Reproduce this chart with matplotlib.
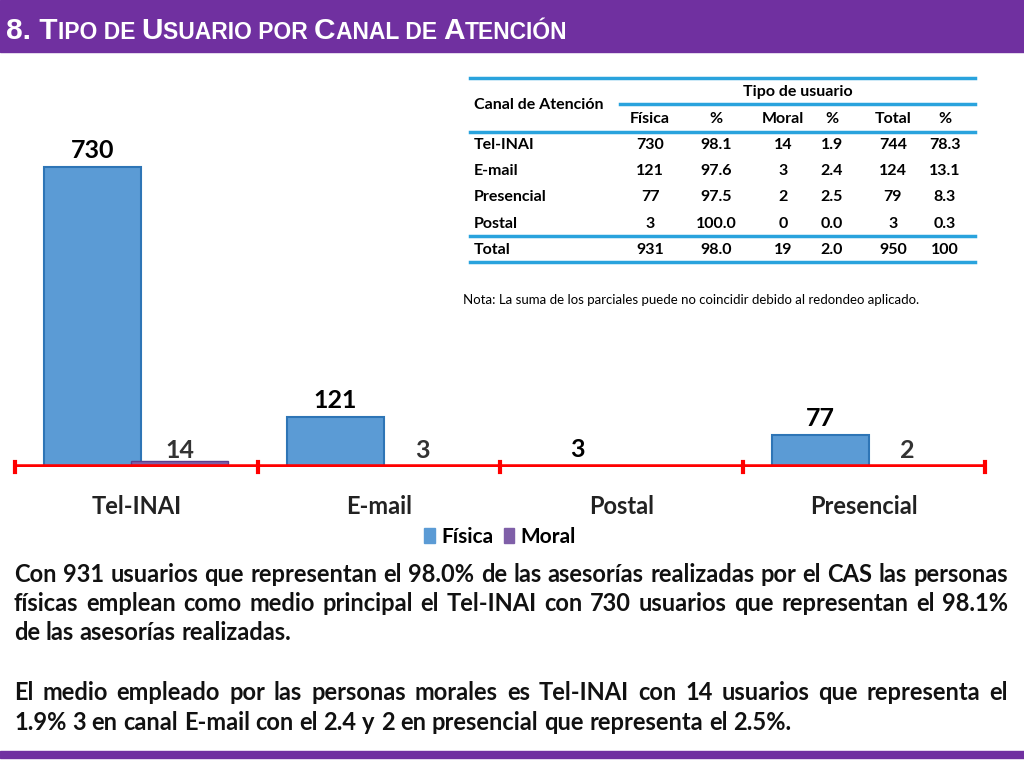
import matplotlib
matplotlib.use("Agg")
import matplotlib.pyplot as plt
from matplotlib.lines import Line2D
from matplotlib.patches import Rectangle, Patch

categories = ["Tel-INAI", "E-mail", "Postal", "Presencial"]
fisica = [730, 121, 3, 77]
moral = [14, 3, 0, 2]
moral_labels = ["14", "3", "", "2"]

tbl_channels = ["Tel-INAI", "E-mail", "Presencial", "Postal", "Total"]
tbl_fisica = ["730", "121", "77", "3", "931"]
tbl_fpct = ["98.1", "97.6", "97.5", "100.0", "98.0"]
tbl_moral = ["14", "3", "2", "0", "19"]
tbl_mpct = ["1.9", "2.4", "2.5", "0.0", "2.0"]
tbl_total = ["744", "124", "79", "3", "950"]
tbl_tpct = ["78.3", "13.1", "8.3", "0.3", "100"]

para1 = ("Con 931 usuarios que representan el 98.0% de las asesorías realizadas por el CAS las personas "
         "físicas emplean como medio principal el Tel-INAI con 730 usuarios que representan el 98.1% "
         "de las asesorías realizadas.")
para2 = ("El medio empleado por las personas morales es Tel-INAI con 14 usuarios que representa el "
         "1.9%  3 en canal E-mail  con el 2.4 y 2 en presencial que representa el 2.5%.")

W, H = 1024, 768
fig = plt.figure(figsize=(10.24, 7.68), dpi=100)
FONT = "Lato"
PURPLE = "#7030A0"
BLUE = "#5B9BD5"
TBLUE = "#29A3DD"

def fx(px): return px / W
def fy(py): return 1 - py / H

fig.add_artist(Rectangle((0, fy(52)), 1, 52 / H, transform=fig.transFigure, color=PURPLE, zorder=0))
fig.add_artist(Rectangle((0, fy(758)), 1, 7 / H, transform=fig.transFigure, color=PURPLE, zorder=0))

renderer = fig.canvas.get_renderer()
x = fx(6)
for piece, big in [("8. T", True), ("IPO DE ", False), ("U", True), ("SUARIO POR ", False),
                   ("C", True), ("ANAL DE ", False), ("A", True), ("TENCIÓN", False)]:
    t = fig.text(x, fy(39), piece, fontsize=21.5 if big else 16.5, fontweight="bold",
                 color="white", family="Liberation Sans", va="baseline")
    bb = t.get_window_extent(renderer)
    x += bb.width / W

ax = fig.add_axes([fx(15), fy(467), fx(970), (467 - 138) / H])
xs = range(len(categories))
ax.bar([i - 0.18 for i in xs], fisica, width=0.4, color=BLUE, edgecolor="#2E75B6", lw=1.5, zorder=2)
ax.bar([i + 0.18 for i in xs], moral, width=0.4, color="#7F5FA8", edgecolor="#5B3F8C", lw=1, zorder=2)
ax.set_xlim(-0.5, 3.5)
ax.set_ylim(0, 800)
for i in xs:
    ax.text(i - 0.18, fisica[i] + 12, str(fisica[i]), ha="center", va="bottom",
            fontsize=18, fontweight="bold", family=FONT)
    if moral_labels[i]:
        ax.text(i + 0.18, 12, moral_labels[i], ha="center", va="bottom",
                fontsize=18, fontweight="bold", family=FONT, color="#333333")
ax.axhline(0, color="red", lw=4, zorder=3)
for b in [-0.5, 0.5, 1.5, 2.5, 3.5]:
    ax.plot([b, b], [-12, 12], color="red", lw=3, zorder=3, clip_on=False)
for s in ax.spines.values():
    s.set_visible(False)
ax.set_yticks([])
ax.set_xticks(list(xs))
ax.set_xticklabels(categories, fontsize=17, fontweight="bold", family=FONT, color="#222222")
ax.tick_params(axis="x", length=0, pad=20)
ax.legend(handles=[Patch(color=BLUE, label="Física"), Patch(color="#7F5FA8", label="Moral")],
          loc="upper center", bbox_to_anchor=(0.5, -0.125), ncol=2, frameon=False,
          prop={"family": FONT, "weight": "bold", "size": 15}, handlelength=0.5,
          handleheight=0.7, columnspacing=0.5, handletextpad=0.3)

def hline(y, x0, x1):
    fig.add_artist(Line2D([fx(x0), fx(x1)], [fy(y), fy(y)], color=TBLUE, lw=2.5))
hline(78, 470, 975)
hline(104, 620, 975)
hline(132, 470, 975)
hline(236, 470, 975)
hline(262, 470, 975)
kw = dict(fontsize=11.5, fontweight="bold", family=FONT, va="center")
fig.text(fx(474), fy(105), "Canal de Atención", **kw)
fig.text(fx(798), fy(92), "Tipo de usuario", ha="center", **kw)
colx = [650, 716, 783, 832, 893, 945]
for cx, h in zip(colx, ["Física", "%", "Moral", "%", "Total", "%"]):
    fig.text(fx(cx), fy(119), h, ha="center", **kw)
cols = [tbl_fisica, tbl_fpct, tbl_moral, tbl_mpct, tbl_total, tbl_tpct]
for r, name in enumerate(tbl_channels):
    y = fy(145 + r * 26.2)
    fig.text(fx(474), y, name, **kw)
    for cx, col in zip(colx, cols):
        fig.text(fx(cx), y, col[r], ha="center", **kw)
fig.text(fx(463), fy(300), "Nota: La suma de los parciales puede no coincidir debido al redondeo aplicado.",
         fontsize=9.5, family=FONT, va="center")

def justify(text, y0, x0=14, x1=1008, lh=29.5, size=17):
    words = text.split()
    def width(s):
        t = fig.text(0, 0, s, fontsize=size, fontweight="bold", family=FONT)
        w = t.get_window_extent(renderer).width
        t.remove()
        return w
    space = width("a b") - width("ab")
    lines, cur = [], []
    for w in words:
        trial = cur + [w]
        if sum(width(z) for z in trial) + space * (len(trial) - 1) > (x1 - x0) and cur:
            lines.append(cur); cur = [w]
        else:
            cur = trial
    lines.append(cur)
    for li, ln in enumerate(lines):
        ws = [width(z) for z in ln]
        last = li == len(lines) - 1
        gap = space if last or len(ln) == 1 else ((x1 - x0) - sum(ws)) / (len(ln) - 1)
        xx = x0
        for z, wz in zip(ln, ws):
            fig.text(fx(xx), fy(y0 + li * lh), z, fontsize=size, fontweight="bold",
                     family=FONT, va="center", color="#111111")
            xx += wz + gap

justify(para1, 574)
justify(para2, 693)

fig.savefig("out.png", dpi=100)
